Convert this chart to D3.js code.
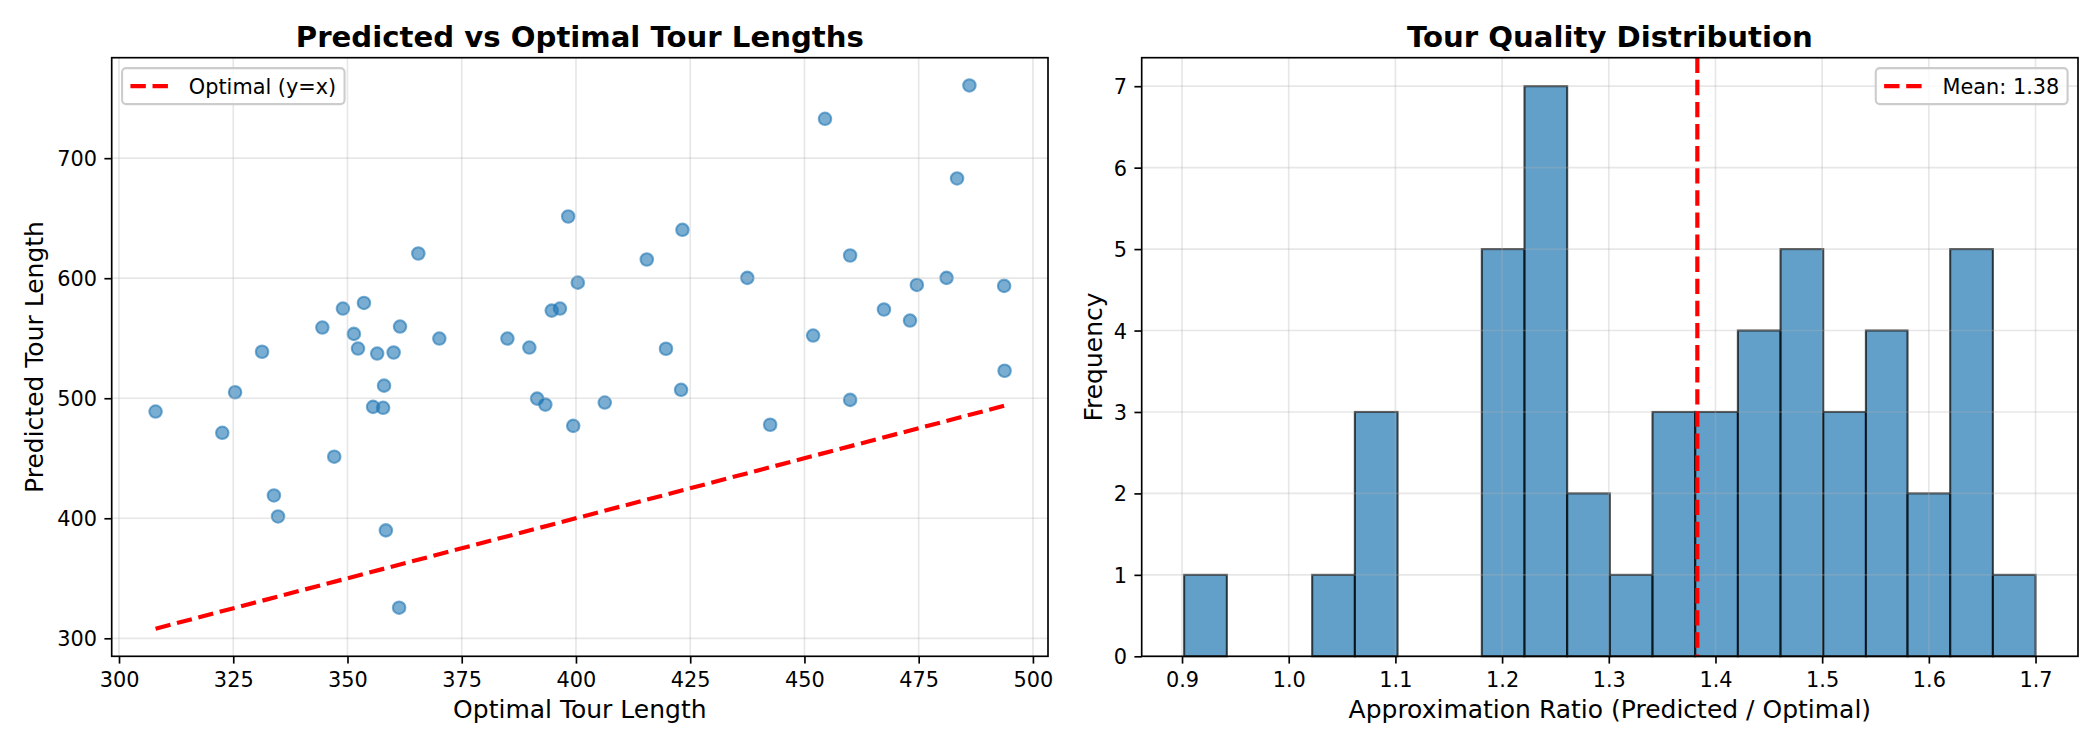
<!DOCTYPE html>
<html><head><meta charset="utf-8">
<script src="https://cdn.jsdelivr.net/npm/d3@7"></script>
<style>
body{margin:0;background:#fff}
text{font-family:"DejaVu Sans",sans-serif;fill:#000}
</style>
</head><body>
<svg id="c" width="2100" height="750"></svg>
<script>
// ---------- data ----------
const optimalLengths = [308.0, 322.6, 325.4, 331.3, 333.9, 334.8, 344.5, 347.1, 349.0, 351.4,
  352.3, 353.6, 355.6, 356.5, 357.8, 358.0, 358.4, 360.1, 361.3, 361.5,
  365.5, 370.1, 385.0, 389.8, 391.5, 393.3, 394.7, 396.5, 398.3, 399.4,
  400.4, 406.3, 415.5, 419.7, 423.0, 423.3, 437.5, 442.5, 451.9, 454.5,
  460.0, 460.0, 467.4, 473.1, 474.6, 481.1, 483.4, 486.1, 493.7, 493.8];
const predictedLengths = [488.9, 471.2, 505.0, 538.7, 419.0, 401.5, 558.9, 451.3, 574.7, 553.6,
  541.4, 579.4, 492.8, 537.2, 492.0, 510.5, 389.9, 538.1, 325.5, 559.7,
  620.6, 549.7, 549.7, 542.2, 499.7, 494.7, 573.0, 574.7, 651.4, 477.0,
  596.3, 496.4, 615.6, 541.2, 507.0, 640.3, 600.3, 477.9, 552.2, 732.8,
  618.9, 498.6, 573.9, 564.7, 594.4, 600.3, 683.1, 760.6, 593.6, 522.9];
const binEdges = [0.902, 0.942, 0.982, 1.022, 1.062, 1.102, 1.141, 1.181, 1.221, 1.261, 1.301,
  1.341, 1.381, 1.421, 1.461, 1.501, 1.541, 1.580, 1.620, 1.660, 1.700];
const binCounts = [1, 0, 0, 1, 3, 0, 0, 5, 7, 2, 1, 3, 3, 4, 5, 3, 4, 2, 5, 1];
const meanRatio = 1.383;
const scatterXTicks = [300, 325, 350, 375, 400, 425, 450, 475, 500];
const scatterYTicks = [300, 400, 500, 600, 700];
const histXTicks = [0.9, 1.0, 1.1, 1.2, 1.3, 1.4, 1.5, 1.6, 1.7];
const histYTicks = [0, 1, 2, 3, 4, 5, 6, 7];
const titles = ["Predicted vs Optimal Tour Lengths", "Tour Quality Distribution"];

// ---------- styling constants ----------
const blue = "#1f77b4";
const tickFont = 20.83, labelFont = 25, titleFont = 29.17;
const svg = d3.select("#c");

function frame(g, x0, x1, y0, y1) {
  g.append("rect").attr("x", x0).attr("y", y0).attr("width", x1 - x0).attr("height", y1 - y0)
    .attr("fill", "none").attr("stroke", "#000").attr("stroke-width", 1.67);
}

function gridAndTicks(g, xs, ys, xt, yt, fmtX, fmtY, box) {
  const grid = g.append("g").attr("stroke", "#b0b0b0").attr("stroke-opacity", 0.3).attr("stroke-width", 1.67);
  xt.forEach(v => grid.append("line").attr("x1", xs(v)).attr("x2", xs(v)).attr("y1", box.t).attr("y2", box.b));
  yt.forEach(v => grid.append("line").attr("x1", box.l).attr("x2", box.r).attr("y1", ys(v)).attr("y2", ys(v)));
}

function axes(g, xs, ys, xt, yt, fmtX, fmtY, box) {
  const xa = d3.axisBottom(xs).tickValues(xt).tickFormat(fmtX).tickSize(7.3).tickPadding(7.3);
  const ya = d3.axisLeft(ys).tickValues(yt).tickFormat(fmtY).tickSize(7.3).tickPadding(7.3);
  const gx = g.append("g").attr("transform", `translate(0,${box.b})`).call(xa);
  const gy = g.append("g").attr("transform", `translate(${box.l},0)`).call(ya);
  [gx, gy].forEach(a => {
    a.select(".domain").remove();
    a.selectAll(".tick line").attr("stroke", "#000").attr("stroke-width", 1.67);
    a.selectAll(".tick text").attr("font-size", tickFont).attr("font-family", "DejaVu Sans").attr("fill", "#000");
  });
  gx.selectAll(".tick text").attr("dy", null).attr("y", 30.7);
  gy.selectAll(".tick text").attr("dy", "0.36em");
}

function legend(g, box, loc, label) {
  const pad = 8.33, hl = 41.7, htp = 16.7, bap = 10.4;
  const lg = g.append("g");
  const bg = lg.append("rect");
  const txt = lg.append("text").attr("font-size", tickFont).text(label);
  const tw = txt.node().getComputedTextLength();
  const w = pad + hl + htp + tw + pad, h = 36;
  const x0 = loc === "left" ? box.l + bap : box.r - bap - w;
  const y0 = box.t + bap;
  bg.attr("x", x0).attr("y", y0).attr("width", w).attr("height", h).attr("rx", 4)
    .attr("fill", "#fff").attr("fill-opacity", 0.8).attr("stroke", "#cccccc").attr("stroke-width", 2.08);
  const cy = y0 + h / 2;
  lg.append("line").attr("x1", x0 + pad).attr("x2", x0 + pad + hl).attr("y1", cy).attr("y2", cy)
    .attr("stroke", "red").attr("stroke-width", 4.17).attr("stroke-dasharray", "15.4,6.7");
  txt.attr("x", x0 + pad + hl + htp).attr("y", cy + 7.5);
}

// ---------- scatter ----------
{
  const box = {l: 111.7, r: 1048, t: 57.7, b: 656.3};
  const g = svg.append("g");
  const xs = d3.scaleLinear().domain([298.4, 503.3]).range([box.l, box.r]);
  const ys = d3.scaleLinear().domain([285, 783.7]).range([box.b, box.t]);
  const pts = optimalLengths.map((o, i) => [o, predictedLengths[i]]);
  g.append("g").selectAll("circle").data(pts).join("circle")
    .attr("cx", d => xs(d[0])).attr("cy", d => ys(d[1])).attr("r", 6.25)
    .attr("fill", blue).attr("fill-opacity", 0.6)
    .attr("stroke", blue).attr("stroke-opacity", 0.6).attr("stroke-width", 2.08);
  gridAndTicks(g, xs, ys, scatterXTicks, scatterYTicks, null, null, box);
  const ext = d3.extent(optimalLengths);
  const line = d3.line().x(d => xs(d)).y(d => ys(d));
  g.append("path").attr("d", line(ext)).attr("fill", "none").attr("stroke", "red")
    .attr("stroke-width", 4.17).attr("stroke-dasharray", "15.4,6.7");
  frame(g, box.l, box.r, box.t, box.b);
  axes(g, xs, ys, scatterXTicks, scatterYTicks, d3.format("d"), d3.format("d"), box);
  g.append("text").attr("x", (box.l + box.r) / 2).attr("y", 46.7).attr("text-anchor", "middle")
    .attr("font-size", titleFont).attr("font-weight", "bold").text(titles[0]);
  g.append("text").attr("x", (box.l + box.r) / 2).attr("y", 718).attr("text-anchor", "middle")
    .attr("font-size", labelFont).text("Optimal Tour Length");
  g.append("text").attr("transform", `translate(42.7,${(box.t + box.b) / 2}) rotate(-90)`)
    .attr("text-anchor", "middle").attr("font-size", labelFont).text("Predicted Tour Length");
  legend(g, box, "left", "Optimal (y=x)");
}

// ---------- histogram ----------
{
  const box = {l: 1141.7, r: 2078, t: 57.7, b: 656.3};
  const g = svg.append("g");
  const xs = d3.scaleLinear().domain([0.8622, 1.7398]).range([box.l, box.r]);
  const ys = d3.scaleLinear().domain([0, 7.35]).range([box.b, box.t]);
  const bins = binCounts.map((c, i) => ({x0: binEdges[i], x1: binEdges[i + 1], c}));
  g.append("g").selectAll("rect").data(bins.filter(b => b.c > 0)).join("rect")
    .attr("x", d => xs(d.x0)).attr("width", d => xs(d.x1) - xs(d.x0))
    .attr("y", d => ys(d.c)).attr("height", d => ys(0) - ys(d.c))
    .attr("fill", blue).attr("fill-opacity", 0.7)
    .attr("stroke", "#000").attr("stroke-opacity", 0.7).attr("stroke-width", 2.08);
  gridAndTicks(g, xs, ys, histXTicks, histYTicks, null, null, box);
  g.append("line").attr("x1", xs(meanRatio)).attr("x2", xs(meanRatio)).attr("y1", box.t).attr("y2", box.b)
    .attr("stroke", "red").attr("stroke-width", 4.17).attr("stroke-dasharray", "15.4,6.7");
  frame(g, box.l, box.r, box.t, box.b);
  axes(g, xs, ys, histXTicks, histYTicks, d3.format(".1f"), d3.format("d"), box);
  g.append("text").attr("x", (box.l + box.r) / 2).attr("y", 46.7).attr("text-anchor", "middle")
    .attr("font-size", titleFont).attr("font-weight", "bold").text(titles[1]);
  g.append("text").attr("x", (box.l + box.r) / 2).attr("y", 718).attr("text-anchor", "middle")
    .attr("font-size", labelFont).text("Approximation Ratio (Predicted / Optimal)");
  g.append("text").attr("transform", `translate(1101.5,${(box.t + box.b) / 2}) rotate(-90)`)
    .attr("text-anchor", "middle").attr("font-size", labelFont).text("Frequency");
  legend(g, box, "right", "Mean: " + meanRatio.toFixed(2));
}
</script>
</body></html>
